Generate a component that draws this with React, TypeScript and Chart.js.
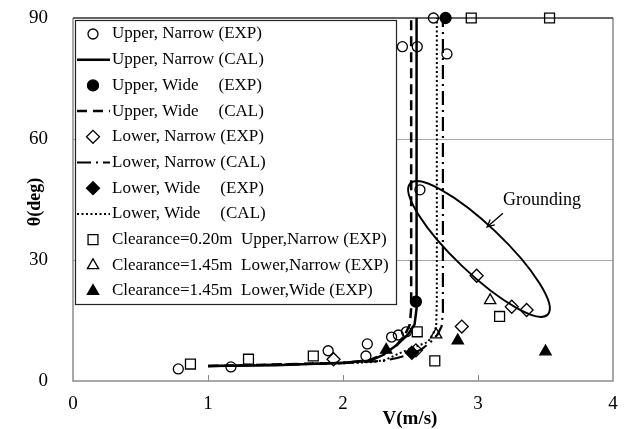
import React, { useEffect, useRef } from 'react';
import { Chart, registerables } from 'chart.js';

Chart.register(...registerables);

const FONT = "'Liberation Serif', 'Times New Roman', Times, serif";

// axes
const xTickValues = [0, 1, 2, 3, 4];
const yTickValues = [0, 30, 60, 90];
const xAxisTitle = 'V(m/s)';
const yAxisTitle = 'θ(deg)';
const annotationText = 'Grounding';

// Upper, Narrow (EXP)
const upNarExpV = [0.78, 1.17, 1.89, 2.17, 2.18, 2.36, 2.41, 2.47, 2.44, 2.55, 2.67, 2.77, 2.57];
const upNarExpT = [3.0, 3.5, 7.5, 6.2, 9.2, 10.9, 11.4, 12.2, 82.9, 82.9, 90, 81.1, 47.4];
// Upper, Narrow (CAL)
const upNarCalV = [1.0, 1.5, 2.0, 2.2, 2.3, 2.4, 2.48, 2.53, 2.545, 2.545];
const upNarCalT = [3.7, 3.9, 4.5, 5.0, 6.5, 9.0, 11.5, 14.0, 18.0, 90];
// Upper, Wide (EXP)
const upWidExpV = [2.54, 2.76];
const upWidExpT = [19.7, 90];
// Upper, Wide (CAL)
const upWidCalV = [1.0, 2.0, 2.2, 2.3, 2.4, 2.46, 2.495, 2.505, 2.505];
const upWidCalT = [3.7, 4.5, 5.2, 6.6, 8.9, 11.5, 14.0, 18.0, 90];
// Lower, Narrow (EXP)
const loNarExpV = [1.93, 2.54, 2.88, 2.99, 3.25, 3.36];
const loNarExpT = [5.4, 7.6, 13.5, 26.1, 18.4, 17.6];
// Lower, Narrow (CAL)
const loNarCalV = [1.0, 2.0, 2.3, 2.4, 2.5, 2.58, 2.65, 2.7, 2.73, 2.74, 2.74];
const loNarCalT = [3.7, 4.4, 5.0, 5.7, 6.6, 7.8, 9.7, 11.5, 13.5, 17, 90];
// Lower, Wide (EXP)
const loWidExpV = [2.51];
const loWidExpT = [7.0];
// Lower, Wide (CAL)
const loWidCalV = [1.0, 2.0, 2.22, 2.31, 2.42, 2.53, 2.63, 2.67, 2.69, 2.695, 2.695];
const loWidCalT = [3.7, 4.4, 4.7, 5.2, 6.9, 8.4, 9.7, 11.9, 13.4, 20, 90];
// Clearance=0.20m Upper,Narrow (EXP)
const cl020V = [0.87, 1.3, 1.78, 2.55, 2.68, 3.16, 2.95, 3.53];
const cl020T = [4.2, 5.4, 6.2, 12.2, 5.0, 16.0, 90, 90];
// Clearance=1.45m Lower,Narrow (EXP)
const cl145NarV = [2.69, 3.09];
const cl145NarT = [11.5, 20.0];
// Clearance=1.45m Lower,Wide (EXP)
const cl145WidV = [2.32, 2.85, 3.5];
const cl145WidT = [7.7, 10.0, 7.3];

// grounding ellipse: ends of its long axis (data units)
const ellipseTipsV = [2.498, 3.517];
const ellipseTipsT = [48.97, 16.49];
// annotation text anchor and arrow (data units)
const labelAnchor = { v: 3.185, t: 44.9 };
const arrowFrom = { v: 3.185, t: 41.6 };
const arrowTo = { v: 3.067, t: 38.2 };

const pts = (v: number[], t: number[]) => v.map((x, i) => ({ x, y: t[i] }));

const NONE = 'rgba(0,0,0,0)';

function markerDs(label: string, v: number[], t: number[], style: string, r: number, filled: boolean) {
  return {
    label,
    data: pts(v, t),
    showLine: false,
    pointStyle: style,
    pointRadius: r,
    pointHoverRadius: r,
    pointBorderWidth: 1.3,
    borderColor: '#000',
    backgroundColor: filled ? '#000' : NONE,
    pointBackgroundColor: filled ? '#000' : NONE,
    pointBorderColor: '#000',
    clip: false,
  };
}

function lineDs(label: string, v: number[], t: number[], dash: number[], w: number) {
  return {
    label,
    data: pts(v, t),
    showLine: true,
    pointRadius: 0,
    pointHoverRadius: 0,
    borderColor: '#000',
    backgroundColor: NONE,
    borderWidth: w,
    borderDash: dash,
    tension: 0,
    fill: false,
    clip: false,
  };
}

function drawMarker(ctx: CanvasRenderingContext2D, style: string, x: number, y: number, r: number, filled: boolean) {
  ctx.beginPath();
  if (style === 'circle') {
    ctx.arc(x, y, r, 0, Math.PI * 2);
  } else if (style === 'rect') {
    const s = r * Math.SQRT1_2;
    ctx.rect(x - s, y - s, 2 * s, 2 * s);
  } else if (style === 'rectRot') {
    ctx.moveTo(x - r, y);
    ctx.lineTo(x, y - r);
    ctx.lineTo(x + r, y);
    ctx.lineTo(x, y + r);
    ctx.closePath();
  } else if (style === 'triangle') {
    const a = (2 * Math.PI) / 3;
    ctx.moveTo(x, y - r);
    ctx.lineTo(x + Math.sin(a) * r, y - Math.cos(a) * r);
    ctx.lineTo(x + Math.sin(2 * a) * r, y - Math.cos(2 * a) * r);
    ctx.closePath();
  }
  if (filled) {
    ctx.fillStyle = '#000';
    ctx.fill();
  }
  ctx.lineWidth = 1.3;
  ctx.strokeStyle = '#000';
  ctx.stroke();
}

const framePlugin = {
  id: 'frame',
  beforeDatasetsDraw(chart: any) {
    const { ctx, chartArea: a, scales } = chart;
    const xs = scales.x;
    ctx.save();
    ctx.lineWidth = 1.5;
    ctx.strokeStyle = '#8c8c8c';
    ctx.beginPath();
    ctx.moveTo(a.left, a.top);
    ctx.lineTo(a.left, a.bottom);
    ctx.lineTo(a.right, a.bottom);
    ctx.lineTo(a.right, a.top);
    ctx.stroke();
    ctx.strokeStyle = '#333';
    ctx.lineWidth = 1.3;
    ctx.beginPath();
    ctx.moveTo(a.left, a.top);
    ctx.lineTo(a.right, a.top);
    ctx.stroke();
    // small tick marks on the x axis
    ctx.strokeStyle = '#8c8c8c';
    ctx.lineWidth = 1;
    for (const v of xTickValues) {
      if (v === xTickValues[0] || v === xTickValues[xTickValues.length - 1]) continue;
      const px = Math.round(xs.getPixelForValue(v)) + 0.5;
      ctx.beginPath();
      ctx.moveTo(px, a.bottom);
      ctx.lineTo(px, a.bottom - 6);
      ctx.stroke();
    }
    ctx.restore();
  },
  afterDatasetsDraw(chart: any) {
    const { ctx, scales } = chart;
    const xs = scales.x;
    const ys = scales.y;
    ctx.save();

    // grounding ellipse
    const x1 = xs.getPixelForValue(ellipseTipsV[0]);
    const y1 = ys.getPixelForValue(ellipseTipsT[0]);
    const x2 = xs.getPixelForValue(ellipseTipsV[1]);
    const y2 = ys.getPixelForValue(ellipseTipsT[1]);
    const rx = Math.hypot(x2 - x1, y2 - y1) / 2;
    ctx.beginPath();
    ctx.ellipse((x1 + x2) / 2, (y1 + y2) / 2, rx, 24, Math.atan2(y2 - y1, x2 - x1), 0, Math.PI * 2);
    ctx.lineWidth = 2;
    ctx.strokeStyle = '#000';
    ctx.stroke();

    // annotation text + arrow
    ctx.font = `18px ${FONT}`;
    ctx.fillStyle = '#000';
    ctx.textAlign = 'left';
    ctx.textBaseline = 'middle';
    ctx.fillText(annotationText, xs.getPixelForValue(labelAnchor.v), ys.getPixelForValue(labelAnchor.t));
    const ax0 = xs.getPixelForValue(arrowFrom.v), ay0 = ys.getPixelForValue(arrowFrom.t);
    const ax1 = xs.getPixelForValue(arrowTo.v), ay1 = ys.getPixelForValue(arrowTo.t);
    ctx.lineWidth = 1.3;
    ctx.beginPath();
    ctx.moveTo(ax0, ay0);
    ctx.lineTo(ax1, ay1);
    const ang = Math.atan2(ay1 - ay0, ax1 - ax0);
    const hl = 8;
    ctx.moveTo(ax1 - hl * Math.cos(ang - 0.45), ay1 - hl * Math.sin(ang - 0.45));
    ctx.lineTo(ax1, ay1);
    ctx.lineTo(ax1 - hl * Math.cos(ang + 0.45), ay1 - hl * Math.sin(ang + 0.45));
    ctx.stroke();

    // legend box
    const bx = 75, by = 20, bw = 321, bh = 284;
    ctx.fillStyle = '#fff';
    ctx.fillRect(bx, by, bw, bh);
    ctx.strokeStyle = '#222';
    ctx.lineWidth = 1.2;
    ctx.strokeRect(bx + 0.5, by + 0.5, bw, bh);

    ctx.font = `17px ${FONT}`;
    ctx.textBaseline = 'middle';
    ctx.textAlign = 'left';
    const rowStart = 34, rowStep = 25.7, markX = 93, lineX0 = 77, lineX1 = 110, textX = 112;
    chart.data.datasets.forEach((ds: any, i: number) => {
      const ry = rowStart + i * rowStep;
      if (ds.showLine) {
        ctx.save();
        ctx.strokeStyle = '#000';
        ctx.lineWidth = ds.borderWidth;
        ctx.setLineDash(ds.borderDash || []);
        ctx.beginPath();
        ctx.moveTo(lineX0, ry);
        ctx.lineTo(lineX1, ry);
        ctx.stroke();
        ctx.restore();
      } else {
        drawMarker(ctx, ds.pointStyle, markX, ry, ds.pointRadius, ds.pointBackgroundColor === '#000');
      }
      ctx.fillStyle = '#000';
      const label: string = ds.label;
      const m = label.match(/^(.*?)\s{3,}(.*)$/);
      if (m) {
        ctx.fillText(m[1], textX, ry);
        const col = textX + ctx.measureText(m[1].replace('Wide', 'Narrow') + ' ').width;
        ctx.fillText(m[2], col, ry);
      } else {
        ctx.fillText(label.replace(/  /g, '\u00a0 '), textX, ry);
      }
    });

    // axis titles
    ctx.fillStyle = '#000';
    ctx.font = `bold 19px ${FONT}`;
    ctx.textAlign = 'center';
    ctx.textBaseline = 'middle';
    ctx.fillText(xAxisTitle, 410, 419);
    ctx.save();
    ctx.translate(35, 202);
    ctx.rotate(-Math.PI / 2);
    ctx.font = `bold 18px ${FONT}`;
    ctx.fillText(yAxisTitle, 0, 0);
    ctx.restore();

    ctx.restore();
  },
};

export default function App() {
  const ref = useRef<HTMLCanvasElement | null>(null);

  useEffect(() => {
    if (!ref.current) return;
    const datasets: any[] = [
      markerDs('Upper, Narrow (EXP)', upNarExpV, upNarExpT, 'circle', 5, false),
      lineDs('Upper, Narrow (CAL)', upNarCalV, upNarCalT, [], 2.5),
      markerDs('Upper, Wide    (EXP)', upWidExpV, upWidExpT, 'circle', 5.5, true),
      lineDs('Upper, Wide    (CAL)', upWidCalV, upWidCalT, [10, 6], 2.5),
      markerDs('Lower, Narrow (EXP)', loNarExpV, loNarExpT, 'rectRot', 6.5, false),
      lineDs('Lower, Narrow (CAL)', loNarCalV, loNarCalT, [14, 5, 2, 5], 2.2),
      markerDs('Lower, Wide    (EXP)', loWidExpV, loWidExpT, 'rectRot', 6.5, true),
      lineDs('Lower, Wide    (CAL)', loWidCalV, loWidCalT, [2, 2.5], 2),
      markerDs('Clearance=0.20m  Upper,Narrow (EXP)', cl020V, cl020T, 'rect', 7, false),
      markerDs('Clearance=1.45m  Lower,Narrow (EXP)', cl145NarV, cl145NarT, 'triangle', 6.5, false),
      markerDs('Clearance=1.45m  Lower,Wide (EXP)', cl145WidV, cl145WidT, 'triangle', 6.5, true),
    ];

    const chart = new Chart(ref.current, {
      type: 'scatter',
      data: { datasets },
      options: {
        animation: false,
        responsive: false,
        devicePixelRatio: 1,
        layout: { autoPadding: false, padding: { left: 0, right: 14, top: 18, bottom: 0 } },
        plugins: { legend: { display: false }, tooltip: { enabled: false } },
        events: [],
        scales: {
          x: {
            type: 'linear',
            min: 0,
            max: 4,
            afterFit: (s: any) => {
              s.height = 48;
              s.paddingLeft = 0;
              s.paddingRight = 0;
              s.paddingTop = 0;
              s.paddingBottom = 0;
            },
            afterBuildTicks: (s: any) => { s.ticks = xTickValues.map((v) => ({ value: v })); },
            grid: { display: false, drawTicks: false },
            border: { display: false },
            ticks: {
              font: { family: FONT, size: 19 },
              color: '#000',
              padding: 12,
              maxRotation: 0,
              autoSkip: false,
            },
          },
          y: {
            type: 'linear',
            min: 0,
            max: 90,
            afterFit: (s: any) => {
              s.width = 73;
              s.paddingLeft = 0;
              s.paddingRight = 0;
              s.paddingTop = 0;
              s.paddingBottom = 0;
            },
            afterBuildTicks: (s: any) => { s.ticks = yTickValues.map((v) => ({ value: v })); },
            grid: {
              drawTicks: false,
              lineWidth: 1,
              color: (c: any) => (c.tick && (c.tick.value === 30 || c.tick.value === 60) ? '#a8a8a8' : NONE),
            },
            border: { display: false },
            ticks: {
              font: { family: FONT, size: 19 },
              color: '#000',
              padding: 25,
              autoSkip: false,
            },
          },
        },
      } as any,
      plugins: [framePlugin as any],
    });
    return () => chart.destroy();
  }, []);

  return (
    <div style={{ position: 'absolute', left: 0, top: 0, width: 627, height: 429, background: '#fff' }}>
      <canvas ref={ref} width={627} height={429} style={{ display: 'block', width: 627, height: 429 }} />
    </div>
  );
}
